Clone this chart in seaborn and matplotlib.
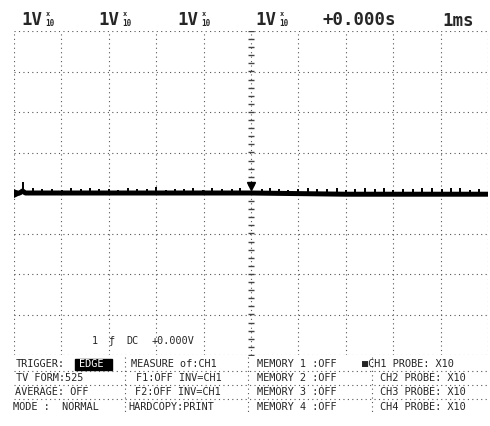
import numpy as np
import pandas as pd
import seaborn as sns
import matplotlib.pyplot as plt

# scope settings shown on the screen
ch_volts = ["1V", "1V", "1V", "1V"]
delay_label = "+0.000s"
timebase_label = "1ms"
trig_info = ["1", "ƒ", "DC", "+0.000V"]

menu_rows = [
    ["TRIGGER:", "MEASURE of:CH1", "MEMORY 1 :OFF", "■CH1 PROBE: X10"],
    ["TV FORM:525", "F1:OFF INV=CH1", "MEMORY 2 :OFF", "CH2 PROBE: X10"],
    ["AVERAGE: OFF", "F2:OFF INV=CH1", "MEMORY 3 :OFF", "CH3 PROBE: X10"],
    ["MODE :  NORMAL", "HARDCOPY:PRINT", "MEMORY 4 :OFF", "CH4 PROBE: X10"],
]
trigger_mode = "EDGE"

# trace (ms, divisions)
trace_t = [-5.0, -4.88, -4.82, -4.76, -2.0, 0.0, 2.0, 5.0]
trace_v = [0.0, 0.0, 0.05, 0.0, 0.0, 0.0, -0.03, -0.03]
spike_t = [-4.81, -4.60, -4.41, -4.20, -3.99, -3.80, -3.59, -3.40, -3.21, -3.00,
           -2.81, -2.59, -2.41, -2.19, -2.00, -1.79, -1.60, -1.41, -1.22, -1.01,
           -0.82, -0.61, -0.40, -0.23, 0.23, 0.40, 0.59, 0.78, 0.99, 1.20,
           1.39, 1.60, 1.81, 2.00, 2.19, 2.41, 2.62, 2.81, 3.00, 3.21,
           3.42, 3.61, 3.82, 4.03, 4.22, 4.41, 4.62, 4.81]
spike_h = [0.26, 0.12, 0.09, 0.11, 0.08, 0.12, 0.10, 0.13, 0.09, 0.11,
           0.08, 0.12, 0.10, 0.09, 0.14, 0.08, 0.11, 0.09, 0.12, 0.08,
           0.13, 0.10, 0.09, 0.12, 0.11, 0.13, 0.10, 0.08, 0.11, 0.12,
           0.09, 0.10, 0.12, 0.08, 0.11, 0.13, 0.09, 0.12, 0.08, 0.11,
           0.10, 0.13, 0.12, 0.09, 0.13, 0.12, 0.08, 0.10]

sns.set_style("white")
plt.rcParams['font.family'] = ['DejaVu Sans Mono', 'DejaVu Sans']

W, H = 490, 426
fig = plt.figure(figsize=(W / 100, H / 100), dpi=100)
ax = fig.add_axes([14 / W, 1 - 355 / H, (488 - 14) / W, (355 - 31) / H])
ax.set_xlim(-5, 5)
ax.set_ylim(-4, 4)
ax.axis("off")

dots = dict(color="#555555", lw=0.8, ls=(0, (1, 3)))
for gx in range(-5, 6):
    ax.axvline(gx, **dots)
for gy in range(-4, 5):
    ax.axhline(gy, **dots)

# center graticule ticks
yt = np.arange(-4, 4.01, 0.2)
ax.plot(np.zeros(len(yt)), yt, ls="none", marker="_", ms=5, mew=1.0, color="#444444")

df = pd.DataFrame({"t": trace_t, "v": trace_v})
sns.lineplot(data=df, x="t", y="v", ax=ax, color="black", lw=3.6, estimator=None, sort=False)
ax.vlines(spike_t, 0, spike_h, color="black", lw=1.4)
ax.plot([-4.93], [0.0], marker=">", ms=6, color="black")
ax.plot([0.0], [0.18], marker="v", ms=6, color="black")


def put(x, y, s, **kw):
    fig.text(x / W, 1 - y / H, s, va="center", ha="left", **kw)


# header
for x, s in zip([21, 98, 177, 255], ch_volts):
    put(x, 20, s, fontsize=12.5, fontweight="bold")
    put(x + 25, 14.5, "x", fontsize=5, fontweight="bold")
    put(x + 24, 24, "10", fontsize=5.5, fontweight="bold")
put(322, 20, delay_label, fontsize=12.5, fontweight="bold")
put(442, 21, timebase_label, fontsize=12.5, fontweight="bold")

# trigger info line
for x, s in zip([92, 108, 126, 152], trig_info):
    put(x, 341, s, fontsize=7.3)

# menu area
row_y = [364, 378, 392, 407]
col_x = [[16, 131, 257, 362], [16, 136, 257, 380], [15, 135, 257, 380], [13, 128, 257, 380]]
for r, row in enumerate(menu_rows):
    for c, s in enumerate(row):
        put(col_x[r][c], row_y[r], s, fontsize=7.4)
fig.add_artist(plt.Rectangle((75 / W, 1 - 370 / H), 37 / W, 11 / H,
                             transform=fig.transFigure, color="black"))
put(79, 364, trigger_mode, fontsize=7.4, color="white")

for yy in [371, 385, 399]:
    fig.add_artist(plt.Line2D([14 / W, 488 / W], [1 - yy / H] * 2, transform=fig.transFigure, **dots))
for xx in [125, 248, 372]:
    fig.add_artist(plt.Line2D([xx / W] * 2, [1 - 357 / H, 1 - 414 / H], transform=fig.transFigure, **dots))

fig.savefig("out.png", dpi=100)
